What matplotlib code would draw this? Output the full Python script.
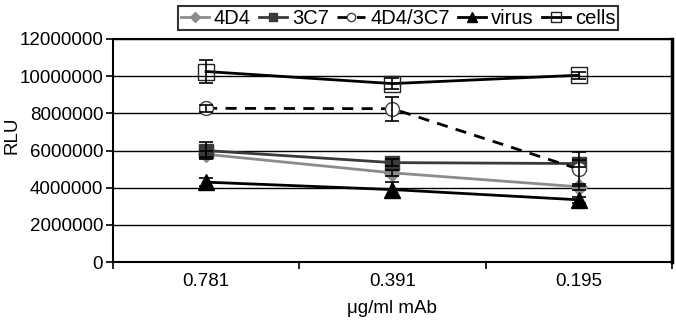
import numpy as np
import matplotlib.pyplot as plt

plt.rcParams['font.family'] = ['Liberation Sans', 'DejaVu Sans']

doses = ['0.781', '0.391', '0.195']

d4d4 = [5.8e6, 4.8e6, 4.05e6]
d4d4_err = [0.15e6, 0.15e6, 0.15e6]
c3c7 = [6.0e6, 5.35e6, 5.3e6]
c3c7_err = [0.45e6, 0.2e6, 0.2e6]
combo = [8.27e6, 8.25e6, 5.0e6]
combo_err = [0.2e6, 0.65e6, 0.9e6]
virus = [4.3e6, 3.9e6, 3.35e6]
virus_err = [0.2e6, 0.4e6, 0.15e6]
cells = [10.25e6, 9.6e6, 10.05e6]
cells_err = [0.6e6, 0.3e6, 0.2e6]

x = np.arange(len(doses))

fig = plt.figure(figsize=(6.76, 3.22), dpi=100)
ax = fig.add_axes([0.167, 0.186, 0.827, 0.693])

for v in range(0, 12000001, 2000000):
    ax.axhline(v, color='black', lw=1.0, zorder=0)

eb = dict(fmt='none', capsize=5, elinewidth=1.2, capthick=1.2, ecolor='black', zorder=3)
series = [
    (d4d4, d4d4_err, '4D4', dict(color='#8c8c8c', marker='D', ms=8,
                                 mfc='#8c8c8c', mec='#8c8c8c')),
    (c3c7, c3c7_err, '3C7', dict(color='#3a3a3a', marker='s', ms=10,
                                 mfc='#3a3a3a', mec='#3a3a3a')),
    (combo, combo_err, '4D4/3C7', dict(color='black', ls=(0, (4, 3)), marker='o',
                                       ms=10, mfc='white', mec='#444444', mew=1)),
    (virus, virus_err, 'virus', dict(color='black', marker='^', ms=11,
                                     mfc='black', mec='black')),
    (cells, cells_err, 'cells', dict(color='black', marker='s', ms=11,
                                     mfc='none', mec='#222222', mew=1)),
]
for vals, errs, name, style in series:
    ax.plot(x, vals, lw=2, label=name, zorder=2, **style)
    ax.errorbar(x, vals, yerr=errs, **eb)

ax.set_xlim(-0.5, 2.5)
ax.set_ylim(0, 12000000)
ax.set_yticks(range(0, 12000001, 2000000))
ax.set_yticklabels([str(v) for v in range(0, 12000001, 2000000)])
ax.set_xticks(x)
ax.set_xticklabels(doses)
ax.set_xticks([-0.5, 0.5, 1.5, 2.5], minor=True)
ax.tick_params(axis='x', which='major', length=0, labelsize=13.5, pad=8)
ax.tick_params(axis='x', which='minor', length=5, width=1.2, direction='out')
ax.tick_params(axis='y', length=5, width=1.2, labelsize=13.5, pad=2)
for s in ax.spines.values():
    s.set_linewidth(1.5)
ax.spines['right'].set_linewidth(2.5)

ax.set_ylabel('RLU', fontsize=13.5)
ax.yaxis.set_label_coords(-0.166, 0.57)
ax.set_xlabel('μg/ml mAb', fontsize=13.5, labelpad=7)

leg = ax.legend(loc='lower center', bbox_to_anchor=(0.51, 1.04), ncol=5,
                frameon=True, fancybox=False, edgecolor='black', fontsize=14.5,
                handlelength=1.4, handletextpad=0.25, columnspacing=0.4,
                borderpad=0.12, borderaxespad=0, markerscale=0.6)
leg.get_frame().set_linewidth(1.5)

plt.savefig('out.png', dpi=100)
